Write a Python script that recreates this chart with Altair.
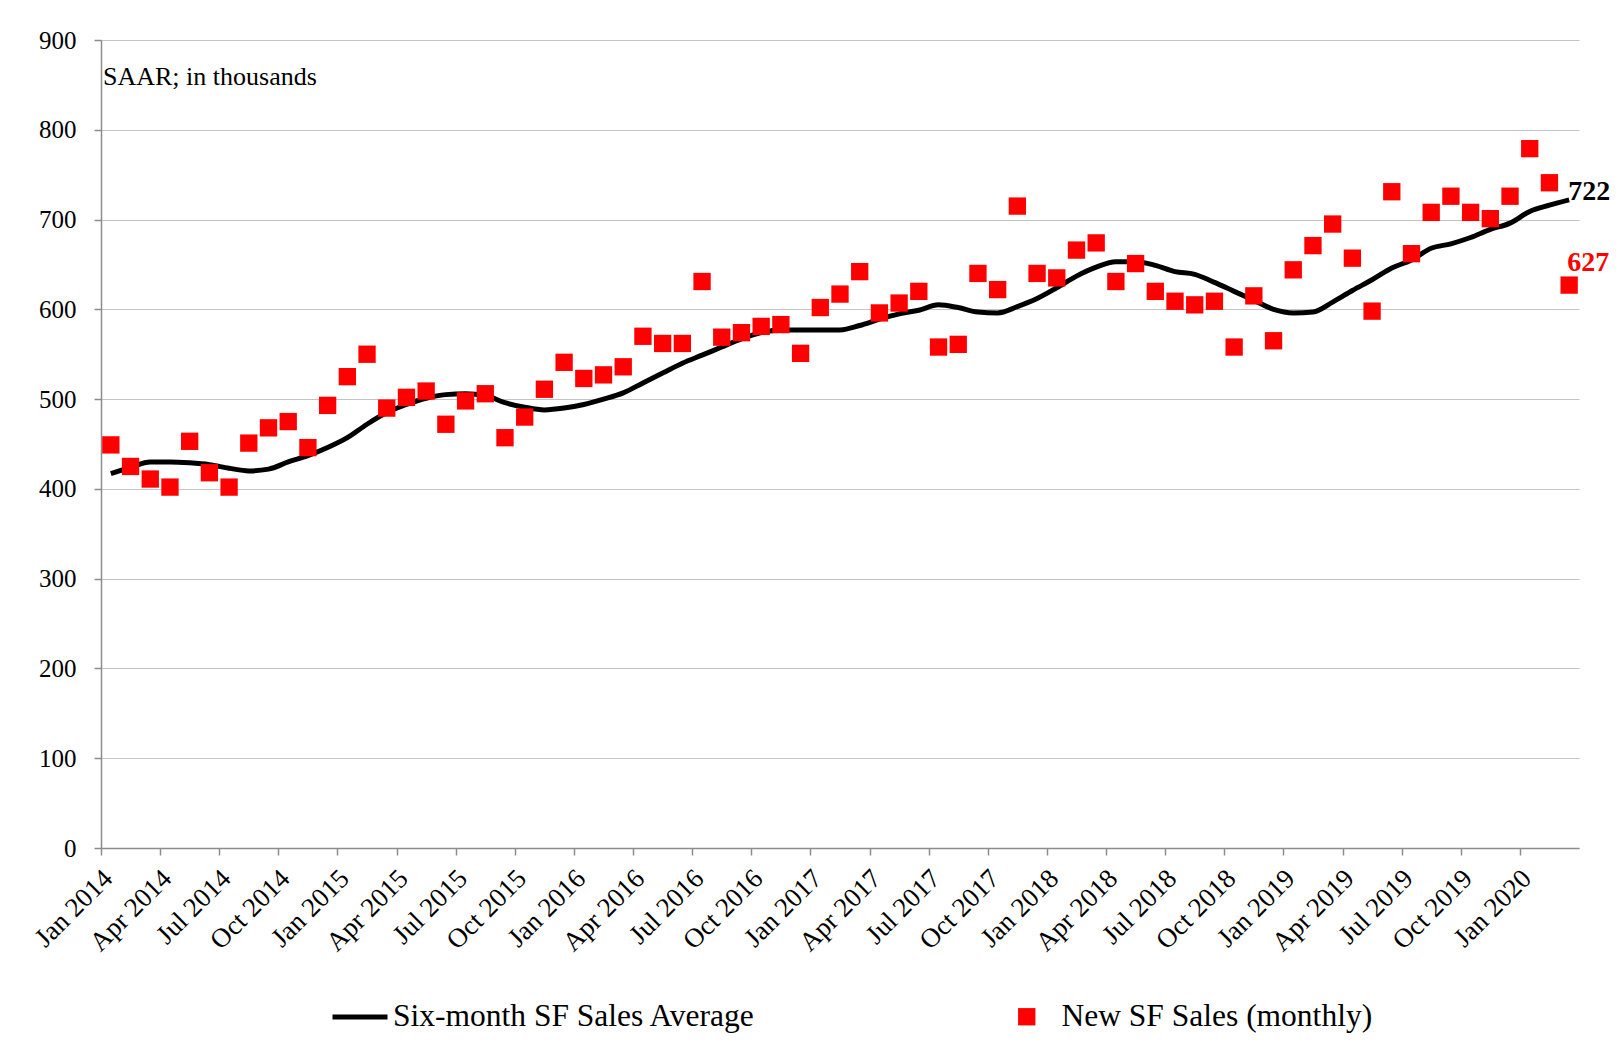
import altair as alt
import pandas as pd

month_names = ["Jan", "Feb", "Mar", "Apr", "May", "Jun",
               "Jul", "Aug", "Sep", "Oct", "Nov", "Dec"]
years = [2014, 2015, 2016, 2017, 2018, 2019, 2020]
months = [f"{m} {y}" for y in years for m in month_names][:75]

# New SF sales (monthly), SAAR, thousands
sales = [449, 425, 411, 402, 453, 418, 402, 451, 468, 475, 446, 493,
         525, 550, 490, 502, 509, 472, 498, 506, 457, 480, 511, 541,
         523, 527, 536, 570, 562, 562, 631, 569, 574, 581, 583, 551,
         602, 617, 642, 596, 607, 620, 558, 561, 640, 622, 715, 640,
         635, 666, 674, 631, 651, 620, 609, 605, 609, 558, 615, 565,
         644, 671, 695, 657, 598, 731, 662, 708, 726, 708, 701, 726,
         779, 741, 627]

# Six-month average
avg = [417, 424, 430, 430, 429, 427, 423, 420, 422, 430, 437, 446,
       457, 472, 485, 494, 501, 505, 506, 504, 496, 491, 488, 490,
       494, 500, 507, 518, 529, 540, 549, 558, 567, 574, 577, 577,
       577, 577, 582, 589, 595, 599, 605, 602, 597, 596, 603, 612,
       624, 637, 647, 653, 653, 649, 642, 639, 630, 620, 610, 600,
       596, 597, 608, 621, 633, 646, 655, 668, 673, 680, 689, 696,
       709, 716, 722]

y_ticks = [0, 100, 200, 300, 400, 500, 600, 700, 800, 900]
label_months = months[::3]
line_name = "Six-month SF Sales Average"
point_name = "New SF Sales (monthly)"
note_text = "SAAR; in thousands"

FONT = "Liberation Serif"
PLOT_W = 1478
PLOT_H = 808
BAND = PLOT_W / len(months)

df = pd.DataFrame({"month": months, "sales": sales, "avg": avg})
df["line_series"] = line_name
df["point_series"] = point_name
last_df = df.iloc[[-1]].copy()
note_df = pd.DataFrame({"note": [note_text]})

x_enc = alt.X(
    "month:N", sort=months, title=None,
    scale=alt.Scale(paddingInner=0, paddingOuter=0),
    axis=alt.Axis(
        values=label_months, grid=False,
        tickOffset=-BAND / 2, labelOffset=BAND / 2 - 3,
        labelAngle=-45, labelAlign="right", labelBaseline="middle",
        labelFont=FONT, labelFontSize=27, labelColor="#000000",
        labelPadding=19, labelOverlap=False, labelFlush=False,
        tickSize=7, tickColor="#8c8c8c", domainColor="#8c8c8c",
        domainWidth=1.5, tickWidth=1.5,
    ),
)

y_scale = alt.Scale(domain=[0, 900], nice=False, zero=True)
y_axis = alt.Axis(
    values=y_ticks, grid=True, gridColor="#c4c4c4", gridWidth=1,
    labelFont=FONT, labelFontSize=25, labelColor="#000000", labelPadding=18,
    tickSize=7, tickColor="#8c8c8c", domainColor="#8c8c8c",
    domainWidth=1.5, tickWidth=1.5,
)

line = alt.Chart(df).mark_line(strokeWidth=5, interpolate="monotone").encode(
    x=x_enc,
    y=alt.Y("avg:Q", scale=y_scale, axis=y_axis, title=None),
    color=alt.Color(
        "line_series:N",
        scale=alt.Scale(domain=[line_name], range=["#000000"]),
        legend=alt.Legend(
            orient="none", legendX=229, legendY=947, title=None,
            symbolType="stroke", symbolSize=3025, symbolStrokeWidth=5,
            labelFont=FONT, labelFontSize=31.5, labelColor="#000000",
            labelOffset=3, padding=0, labelLimit=1000,
        ),
    ),
)

points = alt.Chart(df).mark_point(
    shape="square", filled=True, size=300, color="#ff0000", opacity=1
).encode(
    x=alt.X("month:N", sort=months),
    y=alt.Y("sales:Q", scale=y_scale),
    shape=alt.Shape(
        "point_series:N",
        scale=alt.Scale(domain=[point_name], range=["square"]),
        legend=alt.Legend(
            orient="none", legendX=910, legendY=961, title=None,
            symbolSize=300, symbolFillColor="#ff0000",
            symbolStrokeColor="#ff0000", symbolStrokeWidth=0,
            labelFont=FONT, labelFontSize=31.5, labelColor="#000000",
            labelOffset=19, padding=0, labelLimit=1000,
        ),
    ),
)

avg_label = alt.Chart(last_df).mark_text(
    align="left", baseline="alphabetic", dx=-1, dy=0,
    font=FONT, fontSize=28, fontWeight="bold", color="#000000",
).encode(
    x=alt.X("month:N", sort=months),
    y=alt.Y("avg:Q", scale=y_scale),
    text=alt.Text("avg:Q"),
)

sales_label = alt.Chart(last_df).mark_text(
    align="left", baseline="alphabetic", dx=-2, dy=-14,
    font=FONT, fontSize=28, fontWeight="bold", color="#ff0000",
).encode(
    x=alt.X("month:N", sort=months),
    y=alt.Y("sales:Q", scale=y_scale),
    text=alt.Text("sales:Q"),
)

note = alt.Chart(note_df).mark_text(
    align="left", baseline="alphabetic", font=FONT, fontSize=26,
    color="#000000",
).encode(
    x=alt.value(2), y=alt.value(45), text="note:N",
)

chart = alt.layer(line, points, avg_label, sales_label, note).properties(
    width=PLOT_W, height=PLOT_H,
    padding={"left": 93, "top": 32, "right": 1604 - 93 - PLOT_W, "bottom": 188},
    autosize=alt.AutoSizeParams(type="none"),
    background="#ffffff",
).configure_view(strokeWidth=0)

chart.save("out.html", embed_options={"renderer": "svg", "actions": False})
